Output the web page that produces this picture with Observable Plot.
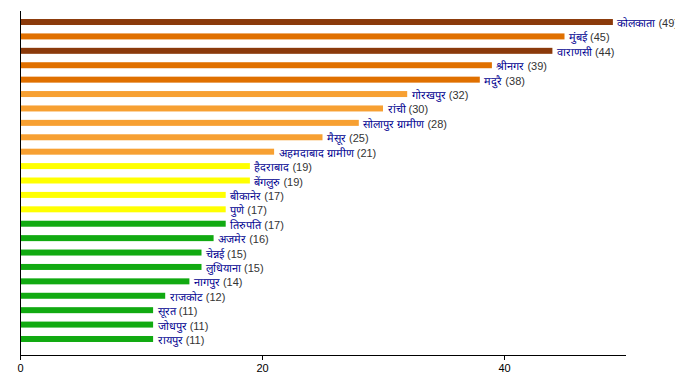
<!DOCTYPE html>
<html><head><meta charset="utf-8">
<script src="https://cdn.jsdelivr.net/npm/d3@7"></script>
<script src="https://cdn.jsdelivr.net/npm/@observablehq/plot@0.6"></script>
<style>
body{margin:0;background:#fff}
svg{font-family:"Liberation Sans",Arial,sans-serif}
</style>
</head><body><div id="chart"></div>
<script>
const names = ["कोलकाता","मुंबई","वाराणसी","श्रीनगर","मदुरै","गोरखपुर","रांची","सोलापुर ग्रामीण","मैसूर","अहमदाबाद ग्रामीण","हैदराबाद","बेंगलुरु","बीकानेर","पुणे","तिरुपति","अजमेर","चेन्नई","लुधियाना","नागपुर","राजकोट","सूरत","जोधपुर","रायपुर"];
const values = [49,45,44,39,38,32,30,28,25,21,19,19,17,17,17,16,15,15,14,12,11,11,11];
const groups = ["A","B","A","B","B","C","C","C","C","C","D","D","D","D","E","E","E","E","E","E","E","E","E"];
const groupDomain = ["A","B","C","D","E"];
const groupColors = ["#8B3A0B","#E07000","#F7A032","#FFFF00","#11AA11"];
const xTicks = [0,20,40];

const data = names.map((name,i)=>({name, value: values[i], group: groups[i]}));

const plot = Plot.plot({
  width: 675, height: 385,
  marginLeft: 20, marginRight: 50, marginTop: 11, marginBottom: 30,
  style: {fontSize: "11px", fontFamily: "'Liberation Sans', Arial, sans-serif", color: "#000", background: "#fff"},
  x: {domain: [0,50], ticks: xTicks, tickSize: 5, label: null},
  y: {domain: names, range: [10.6, 350.4], paddingInner: 0.584, paddingOuter: 0.584, round: false, axis: null},
  color: {domain: groupDomain, range: groupColors},
  marks: [
    Plot.barX(data, {x: "value", y: "name", fill: "group"}),
    Plot.text(data, {x: "value", y: "name", text: "name", dx: 4, dy: 1, textAnchor: "start", fill: "#000090"}),
    Plot.ruleX([0]),
    Plot.frame({anchor: "bottom"})
  ]
});
const svgns = "http://www.w3.org/2000/svg";
plot.querySelectorAll('g[aria-label="text"] text').forEach((t,i)=>{
  const ts = document.createElementNS(svgns, "tspan");
  ts.setAttribute("fill", "#333");
  ts.textContent = ` (${values[i]})`;
  t.appendChild(ts);
});
document.getElementById("chart").appendChild(plot);
</script>
</body></html>
